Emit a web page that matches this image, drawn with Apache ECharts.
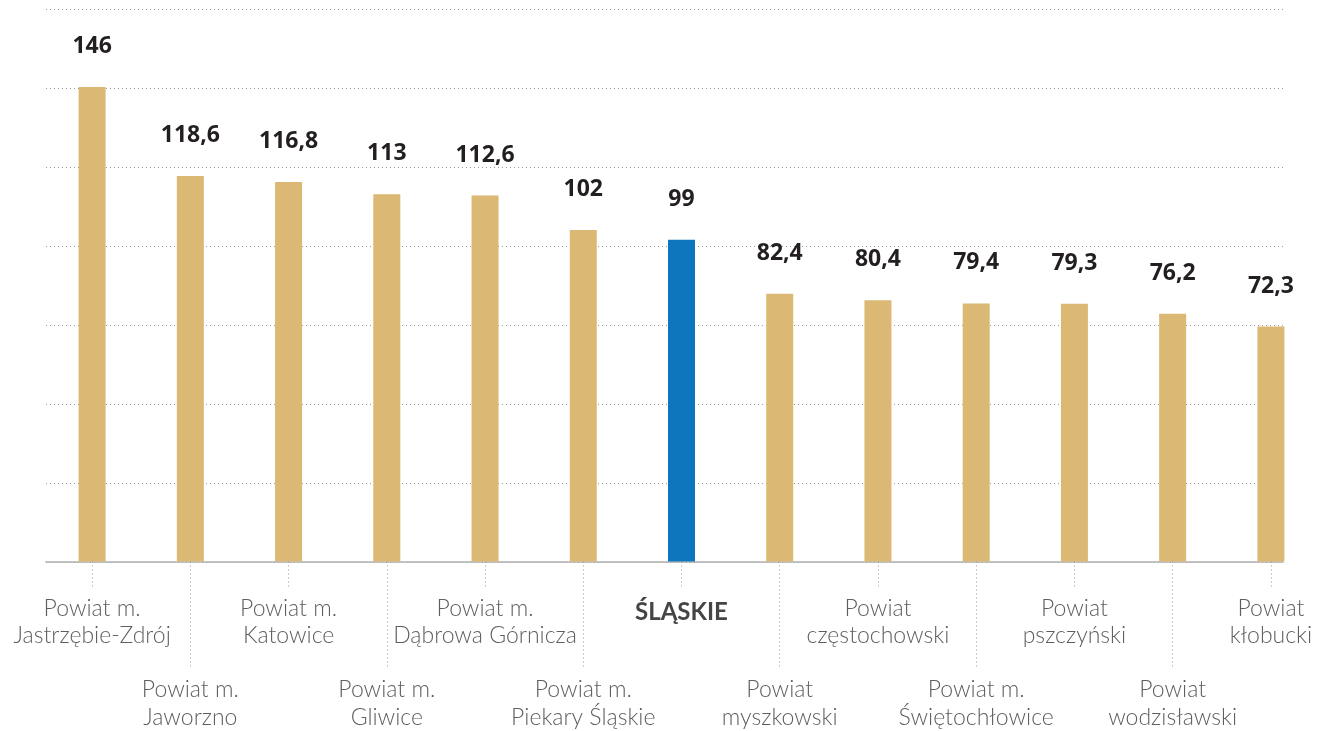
<!DOCTYPE html>
<html>
<head>
<meta charset="utf-8">
<script src="https://cdn.jsdelivr.net/npm/echarts@6/dist/echarts.min.js"></script>
<style>
html,body{margin:0;padding:0;background:#fff;}
#c{width:1322px;height:731px;}
</style>
</head>
<body>
<div id="c"></div>
<script>
const categories = [
  'Powiat m.\nJastrzębie-Zdrój',
  'Powiat m.\nJaworzno',
  'Powiat m.\nKatowice',
  'Powiat m.\nGliwice',
  'Powiat m.\nDąbrowa Górnicza',
  'Powiat m.\nPiekary Śląskie',
  'ŚLĄSKIE',
  'Powiat\nmyszkowski',
  'Powiat\nczęstochowski',
  'Powiat m.\nŚwiętochłowice',
  'Powiat\npszczyński',
  'Powiat\nwodzisławski',
  'Powiat\nkłobucki'
];
const values = [146, 118.6, 116.8, 113, 112.6, 102, 99, 82.4, 80.4, 79.4, 79.3, 76.2, 72.3];
const highlightCategory = 'ŚLĄSKIE';
const axisMax = 170;
const gridSplits = 7;

const TAN = '#DBB873';
const BLUE = '#0E76BC';

const chart = echarts.init(document.getElementById('c'));
const dotted = { color: '#9a9a9a', width: 1, type: [1, 3] };

chart.setOption({
  animation: false,
  backgroundColor: '#fff',
  grid: [
    { left: 43, right: 2, top: 9, bottom: 169 },
    { left: 46, right: 39, top: 9, bottom: 169 }
  ],
  xAxis: [
    {
      type: 'category', gridIndex: 0, data: categories,
      axisLine: { show: false },
      axisTick: { show: true, alignWithLabel: true, length: 27,
        interval: (i) => i % 2 === 0, lineStyle: dotted },
      axisLabel: {
        interval: 0, margin: 33, color: '#5e5e5e',
        fontFamily: 'Lato', fontWeight: 300, fontSize: 23, lineHeight: 27.3,
        formatter: (v, i) => {
          if (v === highlightCategory) return '{s|' + v + '}';
          return (i % 2 === 1 ? '\n\n\n' : '') + v;
        },
        rich: {
          s: { fontFamily: 'Lato', fontWeight: 'bold', fontSize: 24, color: '#454545', padding: [9, 0, 0, 0] }
        }
      }
    },
    {
      type: 'category', gridIndex: 0, data: categories, position: 'bottom',
      axisLine: { show: false },
      axisTick: { show: true, alignWithLabel: true, length: 105,
        interval: (i) => i % 2 === 1, lineStyle: dotted },
      axisLabel: { show: false }
    },
    {
      type: 'value', gridIndex: 1, min: 0, max: 1,
      axisLine: { show: true, lineStyle: { color: '#b0b0b0', width: 1.5 } },
      axisTick: { show: false }, axisLabel: { show: false }, splitLine: { show: false }
    }
  ],
  yAxis: [
    { type: 'value', gridIndex: 0, min: 0, max: axisMax, show: false },
    {
      type: 'value', gridIndex: 1, min: 0, max: axisMax, interval: axisMax / gridSplits,
      axisLine: { show: false }, axisTick: { show: false }, axisLabel: { show: false },
      splitLine: { show: true, lineStyle: dotted }
    }
  ],
  series: [{
    type: 'bar', xAxisIndex: 0, yAxisIndex: 0, barWidth: 27, z: 5,
    data: values.map((v, i) => ({
      value: v,
      itemStyle: { color: categories[i] === highlightCategory ? BLUE : TAN }
    })),
    label: {
      show: true, position: 'top', distance: 29,
      fontFamily: 'Open Sans', fontWeight: 'bold', fontSize: 23, color: '#231F20',
      formatter: (p) => String(p.value).replace('.', ',')
    }
  }]
});
</script>
</body>
</html>
